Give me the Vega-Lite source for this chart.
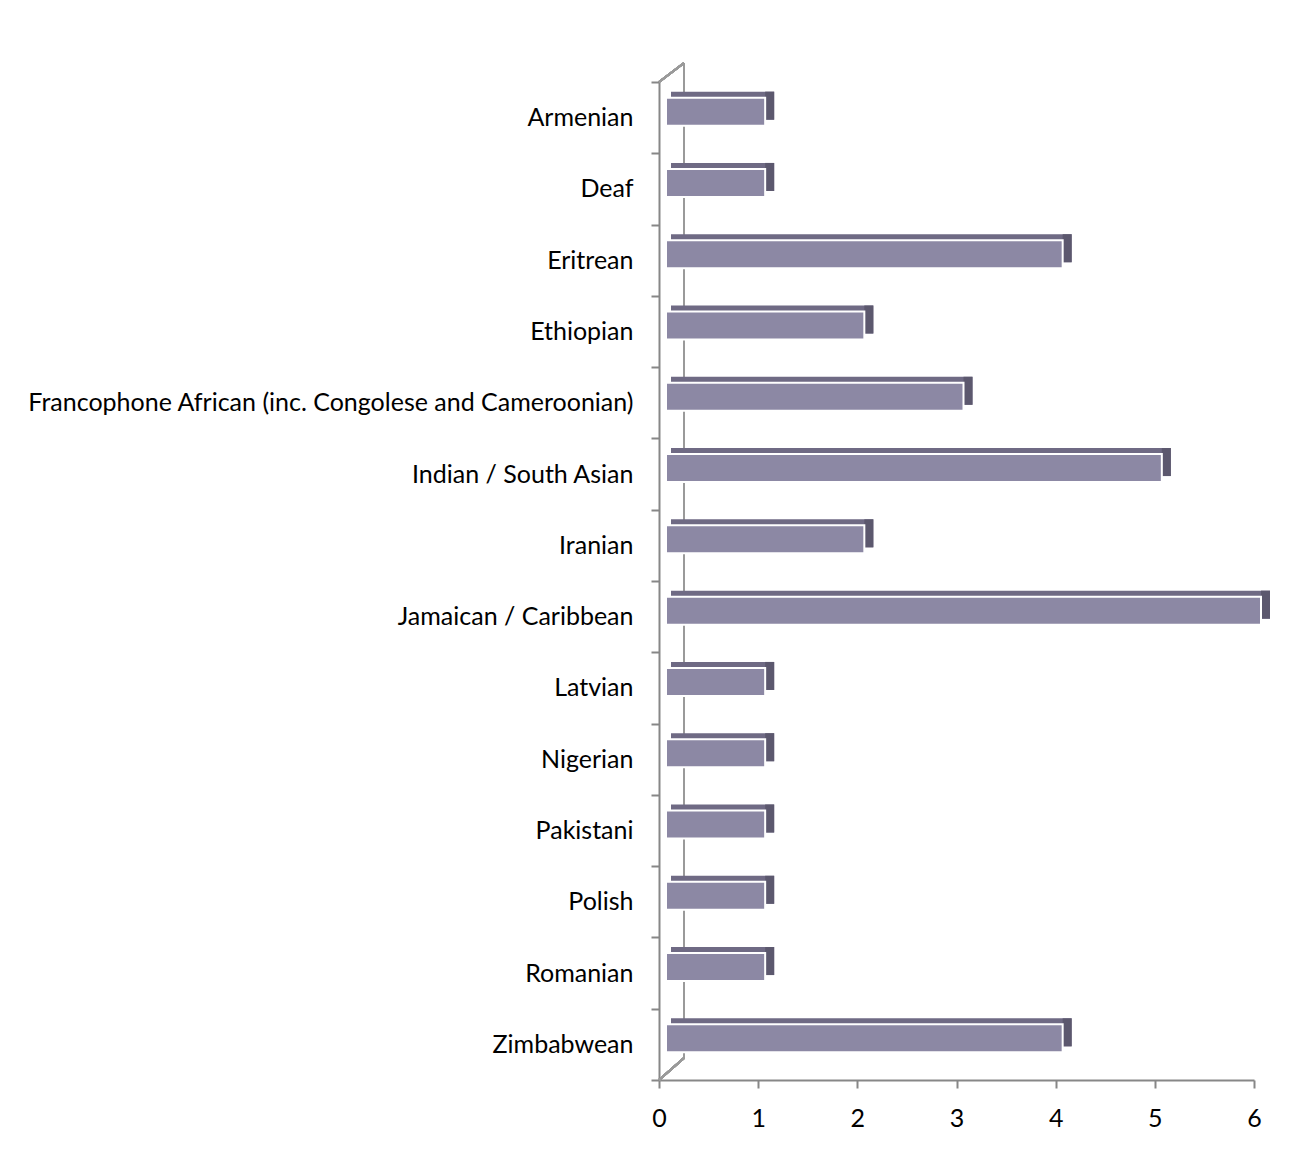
{
  "$schema": "https://vega.github.io/schema/vega-lite/v6.json",
  "width": 595,
  "height": 998,
  "autosize": {"type": "none"},
  "padding": {"left": 659, "top": 82, "right": 60, "bottom": 83},
  "background": "white",
  "config": {
    "view": {"stroke": null},
    "font": "Lato"
  },
  "data": {
    "values": [
      {"group": "Armenian", "count": 1},
      {"group": "Deaf", "count": 1},
      {"group": "Eritrean", "count": 4},
      {"group": "Ethiopian", "count": 2},
      {"group": "Francophone African (inc. Congolese and Cameroonian)", "count": 3},
      {"group": "Indian / South Asian", "count": 5},
      {"group": "Iranian", "count": 2},
      {"group": "Jamaican / Caribbean", "count": 6},
      {"group": "Latvian", "count": 1},
      {"group": "Nigerian", "count": 1},
      {"group": "Pakistani", "count": 1},
      {"group": "Polish", "count": 1},
      {"group": "Romanian", "count": 1},
      {"group": "Zimbabwean", "count": 4}
    ]
  },
  "encoding": {
    "y": {
      "field": "group", "type": "nominal", "sort": null,
      "scale": {
        "domain": ["Armenian", "Deaf", "Eritrean", "Ethiopian", "Francophone African (inc. Congolese and Cameroonian)", "Indian / South Asian", "Iranian", "Jamaican / Caribbean", "Latvian", "Nigerian", "Pakistani", "Polish", "Romanian", "Zimbabwean"],
        "paddingInner": 0, "paddingOuter": 0
      },
      "axis": {
        "title": null, "domainColor": "#878787", "domainWidth": 2,
        "tickColor": "#878787", "tickWidth": 2, "tickSize": 8, "tickBand": "extent",
        "labelFont": "Lato", "labelFontSize": 25, "labelColor": "#000000",
        "labelPadding": 18, "labelLimit": 700
      }
    }
  },
  "layer": [
    {
      "mark": {"type": "rule", "color": "#9a9a9a", "strokeWidth": 2, "xOffset": 25, "yOffset": -19, "y2Offset": -22},
      "encoding": {
        "x": {"datum": 0, "type": "quantitative"},
        "y": {"datum": "Armenian", "bandPosition": 0},
        "y2": {"datum": "Zimbabwean", "bandPosition": 1}
      }
    },
    {
      "mark": {"type": "rule", "color": "#9a9a9a", "strokeWidth": 2, "x2Offset": 25, "y2Offset": -19},
      "encoding": {
        "x": {"datum": 0, "type": "quantitative"},
        "x2": {"datum": 0},
        "y": {"datum": "Armenian", "bandPosition": 0},
        "y2": {"datum": "Armenian", "bandPosition": 0}
      }
    },
    {
      "mark": {"type": "rule", "color": "#9a9a9a", "strokeWidth": 2, "x2Offset": 25, "y2Offset": -22},
      "encoding": {
        "x": {"datum": 0, "type": "quantitative"},
        "x2": {"datum": 0},
        "y": {"datum": "Zimbabwean", "bandPosition": 1},
        "y2": {"datum": "Zimbabwean", "bandPosition": 1}
      }
    },
    {
      "mark": {"type": "bar", "height": 28, "color": "#6F6A84", "xOffset": 16, "x2Offset": 12, "yOffset": -12},
      "encoding": {
        "x": {"field": "count", "type": "quantitative", "scale": {"domain": [0, 6]},
          "axis": {
            "title": null, "values": [0, 1, 2, 3, 4, 5, 6], "format": "d", "grid": false,
            "domainColor": "#878787", "domainWidth": 2,
            "tickColor": "#878787", "tickWidth": 2, "tickSize": 8,
            "labelFont": "Lato", "labelFontSize": 25, "labelColor": "#000000",
            "labelPadding": 18, "labelFlush": false
          }
        },
        "x2": {"datum": 0}
      }
    },
    {
      "mark": {"type": "bar", "height": 28, "color": "#5C586E", "xOffset": 16, "x2Offset": 7, "yOffset": -12},
      "encoding": {
        "x": {"field": "count", "type": "quantitative"},
        "x2": {"field": "count"}
      }
    },
    {
      "mark": {"type": "bar", "height": 28, "color": "#8C88A4", "stroke": "#ffffff", "strokeWidth": 2, "xOffset": 7, "x2Offset": 7, "yOffset": -6},
      "encoding": {
        "x": {"field": "count", "type": "quantitative"},
        "x2": {"datum": 0}
      }
    }
  ]
}
